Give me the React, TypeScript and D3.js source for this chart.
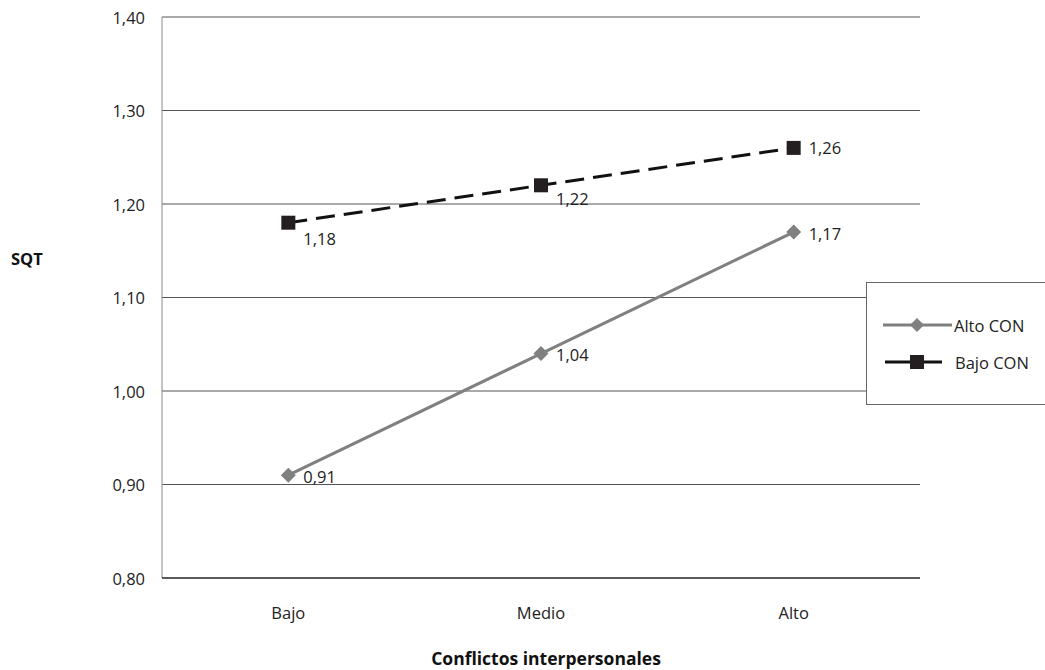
import React from "react";
import * as d3 from "d3";

const categories = ["Bajo", "Medio", "Alto"];
const altoCON = [0.91, 1.04, 1.17];
const bajoCON = [1.18, 1.22, 1.26];
const yTicks = [0.8, 0.9, 1.0, 1.1, 1.2, 1.3, 1.4];
const seriesNames = ["Alto CON", "Bajo CON"];

const W = 1045, H = 670;
const left = 162, right = 920, top = 17, bottom = 578;
const font = "'Open Sans', 'Noto Sans', sans-serif";

export default function App() {
  const x = d3.scaleBand<string>().domain(categories).range([left, right]);
  const y = d3.scaleLinear().domain([0.8, 1.4]).range([bottom, top]);
  const cx = (c: string) => (x(c) as number) + x.bandwidth() / 2;
  const line = d3.line<[string, number]>().x(d => cx(d[0])).y(d => y(d[1]));
  const fmt = (v: number) => d3.format(".2f")(v).replace(".", ",");
  const altoPts = categories.map((c, i) => [c, altoCON[i]] as [string, number]);
  const bajoPts = categories.map((c, i) => [c, bajoCON[i]] as [string, number]);
  const bajoLabelDy = [16, 13, 0];
  const diamond = (px: number, py: number, r: number) =>
    `M${px},${py - r}L${px + r},${py}L${px},${py + r}L${px - r},${py}Z`;
  const fs = 16.5;

  return (
    <svg width={W} height={H} style={{ position: "absolute", left: 0, top: 0, background: "#fff" }} fontFamily={font}>
      {yTicks.map(t => (
        <g key={t}>
          {t > 0.8 && <line x1={left} x2={right} y1={y(t)} y2={y(t)} stroke="#555" strokeWidth={1} />}
          <text x={145} y={y(t)} textAnchor="end" dominantBaseline="central" fontSize={fs} fill="#222">{fmt(t)}</text>
        </g>
      ))}
      <line x1={left} x2={left} y1={top} y2={bottom} stroke="#888" strokeWidth={1} />
      <line x1={left} x2={right} y1={bottom} y2={bottom} stroke="#222" strokeWidth={1.5} />
      {categories.map(c => (
        <text key={c} x={cx(c)} y={612} textAnchor="middle" dominantBaseline="central" fontSize={fs} fill="#222">{c}</text>
      ))}
      <text x={546} y={658} textAnchor="middle" dominantBaseline="central" fontSize={17.5} fontWeight="bold" fill="#111">Conflictos interpersonales</text>
      <text x={11} y={258} dominantBaseline="central" fontSize={16.5} fontWeight="bold" fill="#111">SQT</text>

      <path d={line(altoPts) || ""} fill="none" stroke="#808080" strokeWidth={3} />
      {altoPts.map(([c, v]) => (
        <g key={c}>
          <path d={diamond(cx(c), y(v), 7.5)} fill="#808080" />
          <text x={cx(c) + 15} y={y(v) + 1} dominantBaseline="central" fontSize={fs} fill="#222">{fmt(v)}</text>
        </g>
      ))}
      <path d={line(bajoPts) || ""} fill="none" stroke="#111" strokeWidth={3} strokeDasharray="19,9" />
      {bajoPts.map(([c, v], i) => (
        <g key={c}>
          <rect x={cx(c) - 7} y={y(v) - 7} width={14} height={14} fill="#231f20" />
          <text x={cx(c) + 15} y={y(v) + bajoLabelDy[i]} dominantBaseline="central" fontSize={fs} fill="#222">{fmt(v)}</text>
        </g>
      ))}

      <rect x={866.5} y={282.5} width={200} height={122} fill="#fff" stroke="#666" strokeWidth={1} />
      <line x1={883} x2={952} y1={325} y2={325} stroke="#808080" strokeWidth={3} />
      <path d={diamond(917, 325, 7)} fill="#808080" />
      <text x={954} y={325} dominantBaseline="central" fontSize={fs} fill="#222">{seriesNames[0]}</text>
      <line x1={885} x2={942} y1={362} y2={362} stroke="#111" strokeWidth={3} />
      <rect x={910} y={355} width={14} height={14} fill="#231f20" />
      <text x={955} y={362} dominantBaseline="central" fontSize={fs} fill="#222">{seriesNames[1]}</text>
    </svg>
  );
}
